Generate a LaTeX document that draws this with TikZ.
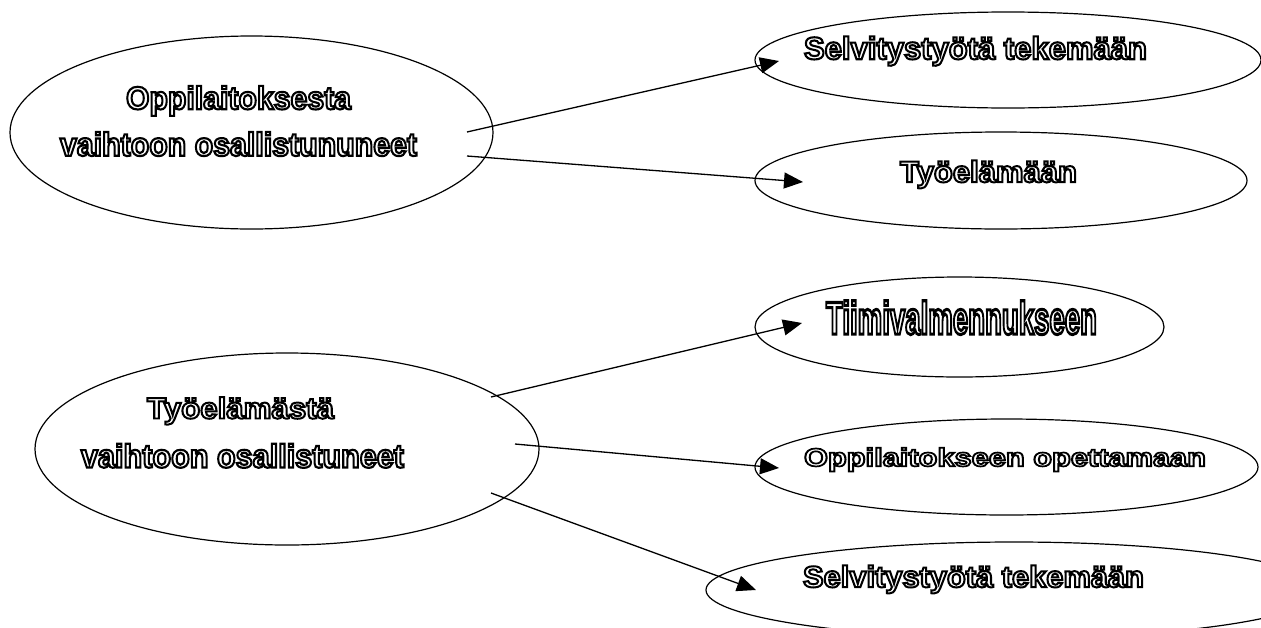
\documentclass[tikz,border=0pt]{standalone}
\usepackage{fontspec}
\setmainfont{Liberation Sans}
\usepackage{graphicx}
\usetikzlibrary{arrows.meta,shapes.geometric}

% hollow lettering: white fill, black stroke (text render mode 2)
\newcommand\hollowtext[1]{{\fontsize{30}{36}\selectfont\bfseries\color{white}%
  \special{pdf:literal direct 0 G 2 Tr 2 w}#1\special{pdf:literal direct 0 Tr 1 w}}}
% label scaled to a given width and cap height (in pt); the strut is the
% cap height of the 30pt face, the text itself is smashed
\newcommand\lbl[3]{\resizebox{#1pt}{#2pt}{\rule{0pt}{21pt}\smash{\hollowtext{#3}}}}

\tikzset{
  oval/.style 2 args={draw, ellipse, line width=1.2pt, inner sep=0pt,
    minimum width=#1pt, minimum height=#2pt},
  caption/.style={inner sep=0pt, outer sep=0pt, anchor=south},
  arr/.style={line width=1.3pt, -{Triangle[length=19pt,width=16pt]}}
}

\begin{document}
\begin{tikzpicture}[x=1pt, y=-1pt]
\useasboundingbox (0,0) rectangle (1261,627);
\clip (0,0) rectangle (1261,627);
\fill[white] (0,0) rectangle (1261,627);

% ovals
\node[oval={483}{193}] (e1) at (251.5,132.5) {};
\node[oval={506}{96}]  (e2) at (1008,60) {};
\node[oval={492}{97}]  (e3) at (1001,180.5) {};
\node[oval={504}{192}] (e4) at (287,449) {};
\node[oval={409}{100}] (e5) at (959.5,327) {};
\node[oval={503}{96}]  (e6) at (1006.5,467) {};
\node[oval={616}{96}]  (e7) at (1014,590) {};

% captions, placed on their baselines
\node[caption] (t1a) at (238.5,109.2) {\lbl{225}{22.5}{Oppilaitoksesta}};
\node[caption] (t1b) at (238.5,155.8) {\lbl{357}{23}{vaihtoon osallistununeet}};
\node[caption] (t2)  at (975.5,59.2)  {\lbl{343}{22}{Selvitystyötä tekemään}};
\node[caption] (t3)  at (988.5,182.2) {\lbl{177}{21}{Työelämään}};
\node[caption] (t4a) at (240.5,418.5) {\lbl{187}{20.7}{Työelämästä}};
\node[caption] (t4b) at (242.5,467.5) {\lbl{323}{23}{vaihtoon osallistuneet}};
\node[caption] (t5)  at (961.5,334.2) {\lbl{271}{32.3}{Tiimivalmennukseen}};
\node[caption] (t6)  at (1005,466.2)  {\lbl{402}{17.8}{Oppilaitokseen opettamaan}};
\node[caption] (t7)  at (973.5,587.2) {\lbl{341}{21}{Selvitystyötä tekemään}};

% connector ends
\coordinate (e1o1) at (467,132);
\coordinate (e1o2) at (467,156);
\coordinate (e2i)  at (779,61);
\coordinate (e3i)  at (803,182);
\coordinate (e4o1) at (491,397);
\coordinate (e4o2) at (515,444);
\coordinate (e4o3) at (491,493);
\coordinate (e5i)  at (802,323);
\coordinate (e6i)  at (779,468);
\coordinate (e7i)  at (756,590);

% connectors
\draw[arr] (e1o1) -- (e2i);
\draw[arr] (e1o2) -- (e3i);
\draw[arr] (e4o1) -- (e5i);
\draw[arr] (e4o2) -- (e6i);
\draw[arr] (e4o3) -- (e7i);
\end{tikzpicture}
\end{document}
